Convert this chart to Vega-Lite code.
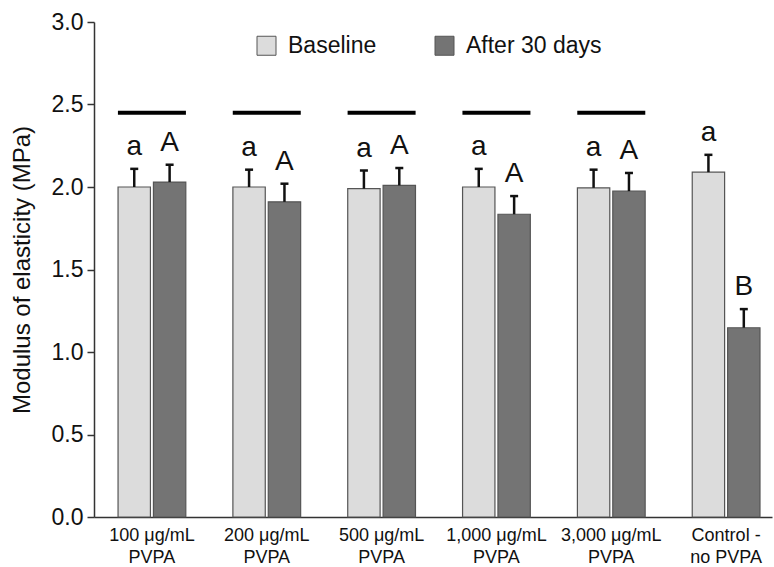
{
  "$schema": "https://vega.github.io/schema/vega-lite/v6.json",
  "width": 678,
  "height": 495,
  "autosize": {"type": "none"},
  "padding": {"left": 94, "top": 22, "right": 2, "bottom": 50},
  "background": "white",
  "config": {
    "font": "Liberation Sans",
    "view": {"stroke": null},
    "axis": {"grid": false, "domainColor": "#333", "tickColor": "#333", "labelColor": "#111", "titleColor": "#111", "labelFont": "Liberation Sans", "titleFont": "Liberation Sans"}
  },
  "datasets": {
    "main": [
      {"group": "100 μg/mL PVPA", "condition": "Baseline", "mean": 2.00, "upper": 2.11, "letter": "a"},
      {"group": "100 μg/mL PVPA", "condition": "After 30 days", "mean": 2.03, "upper": 2.135, "letter": "A"},
      {"group": "200 μg/mL PVPA", "condition": "Baseline", "mean": 2.00, "upper": 2.105, "letter": "a"},
      {"group": "200 μg/mL PVPA", "condition": "After 30 days", "mean": 1.91, "upper": 2.02, "letter": "A"},
      {"group": "500 μg/mL PVPA", "condition": "Baseline", "mean": 1.99, "upper": 2.10, "letter": "a"},
      {"group": "500 μg/mL PVPA", "condition": "After 30 days", "mean": 2.01, "upper": 2.115, "letter": "A"},
      {"group": "1,000 μg/mL PVPA", "condition": "Baseline", "mean": 2.00, "upper": 2.11, "letter": "a"},
      {"group": "1,000 μg/mL PVPA", "condition": "After 30 days", "mean": 1.835, "upper": 1.945, "letter": "A"},
      {"group": "3,000 μg/mL PVPA", "condition": "Baseline", "mean": 1.995, "upper": 2.105, "letter": "a"},
      {"group": "3,000 μg/mL PVPA", "condition": "After 30 days", "mean": 1.975, "upper": 2.085, "letter": "A"},
      {"group": "Control - no PVPA", "condition": "Baseline", "mean": 2.09, "upper": 2.195, "letter": "a"},
      {"group": "Control - no PVPA", "condition": "After 30 days", "mean": 1.147, "upper": 1.26, "letter": "B"}
    ],
    "bracket": [
      {"group": "100 μg/mL PVPA", "level": 2.45},
      {"group": "200 μg/mL PVPA", "level": 2.45},
      {"group": "500 μg/mL PVPA", "level": 2.45},
      {"group": "1,000 μg/mL PVPA", "level": 2.45},
      {"group": "3,000 μg/mL PVPA", "level": 2.45}
    ]
  },
  "encoding": {
    "x": {
      "field": "group",
      "type": "nominal",
      "scale": {
        "domain": ["100 μg/mL PVPA", "200 μg/mL PVPA", "500 μg/mL PVPA", "1,000 μg/mL PVPA", "3,000 μg/mL PVPA", "Control - no PVPA"],
        "paddingInner": 0.41,
        "paddingOuter": 0.157,
        "align": 0.667
      },
      "axis": {
        "title": null,
        "labelAngle": 0,
        "ticks": false,
        "labelFontSize": 18,
        "labelLineHeight": 22,
        "labelPadding": 9,
        "domainWidth": 1.5,
        "labelExpr": "datum.value == 'Control - no PVPA' ? ['Control -', 'no PVPA'] : [replace(datum.value, ' PVPA', ''), 'PVPA']"
      }
    }
  },
  "layer": [
    {
      "data": {"name": "main"},
      "mark": {"type": "bar", "stroke": "#555555", "strokeWidth": 1.2},
      "encoding": {
        "xOffset": {"field": "condition", "type": "nominal", "scale": {"domain": ["Baseline", "After 30 days"], "paddingInner": 0.085, "paddingOuter": 0}},
        "y": {
          "field": "mean",
          "type": "quantitative",
          "scale": {"domain": [0, 3], "nice": false},
          "axis": {
            "title": "Modulus of elasticity (MPa)",
            "titleFontSize": 24,
            "titleFontWeight": "normal",
            "titlePadding": 17,
            "values": [0, 0.5, 1, 1.5, 2, 2.5, 3],
            "format": ".1f",
            "labelFontSize": 23,
            "labelPadding": 4,
            "tickSize": 7,
            "tickWidth": 1.5,
            "domainWidth": 1.5
          }
        },
        "color": {
          "field": "condition",
          "type": "nominal",
          "scale": {"domain": ["Baseline", "After 30 days"], "range": ["#dcdcdc", "#747474"]},
          "legend": {
            "title": null,
            "orient": "none",
            "direction": "horizontal",
            "legendX": 161,
            "legendY": 12,
            "symbolType": "square",
            "symbolSize": 361,
            "symbolStrokeColor": "#555555",
            "symbolStrokeWidth": 1,
            "symbolOpacity": 1,
            "labelFontSize": 23,
            "labelColor": "#111",
            "labelOffset": 10,
            "columnPadding": 56,
            "padding": 0
          }
        }
      }
    },
    {
      "data": {"name": "main"},
      "mark": {"type": "rule", "color": "#111", "strokeWidth": 2.5},
      "encoding": {
        "xOffset": {"field": "condition", "type": "nominal"},
        "y": {"field": "mean", "type": "quantitative"},
        "y2": {"field": "upper"}
      }
    },
    {
      "data": {"name": "main"},
      "mark": {"type": "tick", "color": "#111", "opacity": 1, "size": 8, "thickness": 2.5, "orient": "horizontal"},
      "encoding": {
        "xOffset": {"field": "condition", "type": "nominal"},
        "y": {"field": "upper", "type": "quantitative"}
      }
    },
    {
      "data": {"name": "main"},
      "mark": {"type": "text", "fontSize": 28, "color": "#111", "dy": -14, "baseline": "alphabetic", "align": "center"},
      "encoding": {
        "xOffset": {"field": "condition", "type": "nominal"},
        "y": {"field": "upper", "type": "quantitative"},
        "text": {"field": "letter"}
      }
    },
    {
      "data": {"name": "bracket"},
      "mark": {"type": "tick", "color": "#000", "opacity": 1, "size": 68, "thickness": 4, "orient": "horizontal"},
      "encoding": {
        "y": {"field": "level", "type": "quantitative"}
      }
    }
  ]
}
